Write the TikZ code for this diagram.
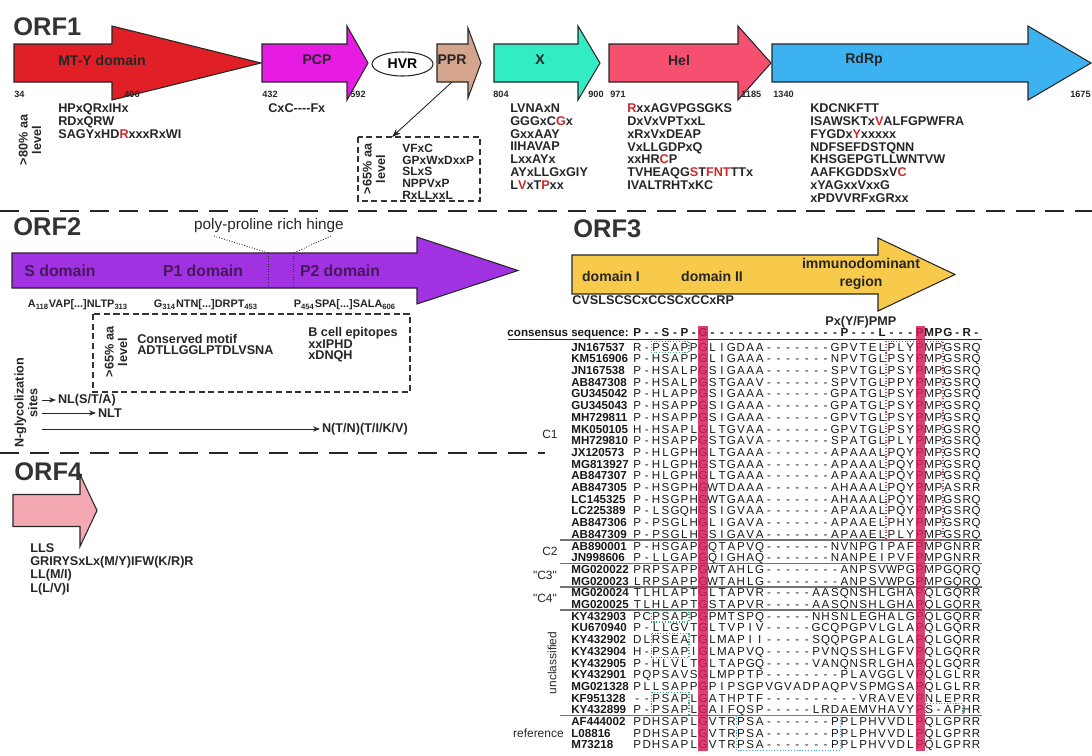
\documentclass[tikz,border=0pt]{standalone}
\usepackage{fontspec}
\setmainfont[Ligatures=TeXOff]{Liberation Sans}
\usetikzlibrary{shapes.geometric,arrows.meta}

\definecolor{mtred}{RGB}{224,32,38}
\definecolor{pcpmag}{RGB}{230,28,226}
\definecolor{pprtan}{RGB}{212,164,140}
\definecolor{xcyan}{RGB}{50,236,198}
\definecolor{helpink}{RGB}{245,80,112}
\definecolor{rdrpblue}{RGB}{60,178,240}
\definecolor{orftwo}{RGB}{160,50,226}
\definecolor{orfthree}{RGB}{247,202,76}
\definecolor{orffour}{RGB}{244,168,178}
\definecolor{motred}{RGB}{204,40,44}
\definecolor{colcrim}{RGB}{214,30,88}
\definecolor{domtxt}{RGB}{72,24,92}
\definecolor{boxgreen}{RGB}{60,160,120}
\definecolor{boxred}{RGB}{205,60,70}
\definecolor{boxblue}{RGB}{70,170,215}

% one fixed cell per residue
\newlength\cellw
\setlength\cellw{5.357pt}
\newcommand\seqcells[1]{\seqstep#1\relax}
\newcommand\seqstep[1]{\ifx\relax#1\else\makebox[\cellw]{#1}\expandafter\seqstep\fi}

\tikzset{
  title/.style={font=\fontsize{14.5}{16}\selectfont\bfseries, text=black!80, anchor=base west, inner sep=0pt},
  orf/.style={draw=black!85, line width=0.6pt},
  dom/.style={font=\fontsize{8}{10}\selectfont\bfseries, text=black!85, inner sep=0pt, align=center},
  domtwo/.style={font=\fontsize{9}{10}\selectfont\bfseries, text=domtxt, inner sep=0pt},
  aanum/.style={font=\fontsize{5.2}{6}\selectfont\bfseries, text=black!85, inner sep=0pt, anchor=west},
  motif/.style={font=\fontsize{7.2}{7.31}\selectfont\bfseries, text=black!85, align=left, anchor=north west, inner sep=0pt},
  lvl/.style={font=\fontsize{7.2}{7.8}\selectfont\bfseries, text=black!85, align=center, rotate=90, inner sep=0pt},
  dashbox/.style={draw=black!80, dash pattern=on 3.5pt off 2pt, line width=0.6pt},
  sepline/.style={draw=black!85, line width=1.6pt, dash pattern=on 10.8pt off 6.2pt},
  hinge/.style={draw=black!85, densely dotted, line width=0.5pt},
  glyarrow/.style={-{Stealth[length=4pt,width=3pt]}, draw=black!85, line width=0.5pt},
  seqtxt/.style={font=\fontsize{6.6}{7}\selectfont, text=black!90, anchor=west, inner sep=0pt, text height=4.7pt, text depth=0pt},
  seqlab/.style={seqtxt, font=\fontsize{6.6}{7}\selectfont\bfseries},
  grplab/.style={font=\fontsize{6.8}{7.5}\selectfont, text=black!85, inner sep=0pt},
  grpline/.style={draw=black!55, line width=0.9pt},
  dotbox/.style={densely dotted, line width=0.6pt}
}

\begin{document}
\begin{tikzpicture}[x=0.02cm, y=-0.02cm]
  \useasboundingbox (0,0) rectangle (1092,755);

  % ORF1
  \node[title] (orf1) at (13,35) {ORF1};
  \draw[orf, fill=mtred] (14,44) -- (112,44) -- (112,26) -- (261,63) -- (112,100) -- (112,82) -- (14,82) -- cycle;
  \draw[orf, fill=pcpmag] (262,44) -- (347,44) -- (347,26) -- (368,63) -- (347,100) -- (347,82) -- (262,82) -- cycle;
  \draw[orf, fill=pprtan] (437,44) -- (468,44) -- (468,28) -- (481,63) -- (468,98) -- (468,82) -- (437,82) -- cycle;
  \draw[orf, fill=xcyan] (494,44) -- (578,44) -- (578,26) -- (600,63) -- (578,100) -- (578,82) -- (494,82) -- cycle;
  \draw[orf, fill=helpink] (609,44) -- (738,44) -- (738,26) -- (771,63) -- (738,100) -- (738,82) -- (609,82) -- cycle;
  \draw[orf, fill=rdrpblue] (772,44) -- (1028,44) -- (1028,26) -- (1091,63) -- (1028,100) -- (1028,82) -- (772,82) -- cycle;
  \node[dom] (mty) at (102,60) {MT-Y domain};
  \node[dom] (pcp) at (317,60) {PCP};
  \node[draw=black!85, fill=white, ellipse, line width=0.6pt, minimum width=1.22cm, minimum height=0.48cm, inner sep=0pt, font=\fontsize{8}{9}\selectfont\bfseries] (hvr) at (402.5,64) {HVR};
  \node[dom] (ppr) at (452,60) {PPR};
  \node[dom] (xdom) at (540,60) {X};
  \node[dom] (hel) at (679,60) {Hel};
  \node[dom] (rdrp) at (864,60) {RdRp};

  \node[aanum] (n34) at (14,94) {34};
  \node[aanum] (n406) at (124,94) {406};
  \node[aanum] (n432) at (262,94) {432};
  \node[aanum] (n592) at (350,94) {592};
  \node[aanum] (n804) at (493,94) {804};
  \node[aanum] (n900) at (588,94) {900};
  \node[aanum] (n971) at (610,94) {971};
  \node[aanum] (n1185) at (741,94) {1185};
  \node[aanum] (n1340) at (773,94) {1340};
  \node[aanum, anchor=east] (n1675) at (1091,94) {1675};

  \node[lvl] (lv80) at (30,140) {>80\% aa\\level};
  \node[motif] (mtymot) at (58,103.4) {HPxQRxIHx\\RDxQRW\\SAGYxHD\textcolor{motred}{R}xxxRxWI};
  \node[motif] (pcpmot) at (268,103.4) {CxC----Fx};
  \node[motif] (xmot) at (510,103.4) {LVNAxN\\GGGxC\textcolor{motred}{G}x\\GxxAAY\\IIHAVAP\\LxxAYx\\AYxLLGxGIY\\L\textcolor{motred}{V}xT\textcolor{motred}{P}xx};
  \node[motif] (helmot) at (627,103.4) {\textcolor{motred}{R}xxAGVPGSGKS\\DxVxVPTxxL\\xRxVxDEAP\\VxLLGDPxQ\\xxHR\textcolor{motred}{C}P\\TVHEAQG\textcolor{motred}{S}T\textcolor{motred}{FNT}TTx\\IVALTRHTxKC};
  \node[motif] (rdrpmot) at (810,103.4) {KDCNKFTT\\ISAWSKTx\textcolor{motred}{V}ALFGPWFRA\\FYGDx\textcolor{motred}{Y}xxxxx\\NDFSEFDSTQNN\\KHSGEPGTLLWNTVW\\AAFKGDDSxV\textcolor{motred}{C}\\xYAGxxVxxG\\xPDVVRFxGRxx};

  \draw[dashbox] (358,137) rectangle (480,201);
  \node[lvl] (lv65a) at (374,169) {>65\% aa\\level};
  \node[motif, font=\fontsize{6.8}{6.7}\selectfont\bfseries] (pprmot) at (402,143.6) {VFxC\\GPxWxDxxP\\SLxS\\NPPVxP\\RxLLxxL};
  \coordinate (pprb) at (452,82);
  \coordinate (boxtip) at (392,137);
  \draw[-{Stealth[length=5pt,width=3.5pt]}, draw=black!85, line width=0.5pt] (pprb) -- (boxtip);

  \draw[sepline] (0,211) -- (1092,211);

  % ORF2
  \node[title] (orf2) at (13,235) {ORF2};
  \draw[orf, fill=orftwo] (12,253) -- (417,253) -- (417,237) -- (518,270.5) -- (417,304) -- (417,288) -- (12,288) -- cycle;
  \draw[hinge] (268.5,253) -- (268.5,288);
  \draw[hinge] (293.5,253) -- (293.5,288);
  \node[font=\fontsize{8.7}{9}\selectfont, text=black!85, inner sep=0pt] (hinge) at (269,226) {poly-proline rich hinge};
  \draw[hinge] (214,236) -- (268.5,253);
  \draw[hinge] (331,236) -- (293.5,253);
  \node[domtwo] (sdom) at (60,271) {S domain};
  \node[domtwo] (ponedom) at (203,271) {P1 domain};
  \node[domtwo] (ptwodom) at (340,271) {P2 domain};
  \node[font=\fontsize{6.2}{7}\selectfont\bfseries, text=black!85, inner sep=0pt] (subs) at (78,305) {A\textsubscript{118}VAP[...]NLTP\textsubscript{313}};
  \node[font=\fontsize{6.2}{7}\selectfont\bfseries, text=black!85, inner sep=0pt] (subp1) at (206,305) {G\textsubscript{314}NTN[...]DRPT\textsubscript{453}};
  \node[font=\fontsize{6.2}{7}\selectfont\bfseries, text=black!85, inner sep=0pt] (subp2) at (345,305) {P\textsubscript{454}SPA[...]SALA\textsubscript{606}};

  \draw[dashbox] (93,314) rectangle (410,392);
  \node[lvl] (lv65b) at (116,352) {>65\% aa\\level};
  \node[motif, font=\fontsize{7.2}{6.5}\selectfont\bfseries] (consmot) at (137,333.9) {Conserved motif\\ADTLLGGLPTDLVSNA};
  \node[motif, font=\fontsize{7.2}{6.6}\selectfont\bfseries] (bcell) at (308,326.9) {B cell epitopes\\xxIPHD\\xDNQH};

  \node[lvl] (nglyc) at (26,403) {N-glycolization\\sites};
  \coordinate (ngone) at (42,400);
  \coordinate (ngtwo) at (42,413);
  \coordinate (ngthree) at (42,429);
  \node[motif, anchor=west, inner sep=1pt] (nlsta) at (56,400) {NL(S/T/A)};
  \node[motif, anchor=west, inner sep=1pt] (nlt) at (96,413) {NLT};
  \node[motif, anchor=west, inner sep=1pt] (ntnt) at (320,429) {N(T/N)(T/I/K/V)};
  \draw[glyarrow] (ngone) -- (nlsta.west);
  \draw[glyarrow] (ngtwo) -- (nlt.west);
  \draw[glyarrow] (ngthree) -- (ntnt.west);

  \draw[sepline] (0,453) -- (545,453);

  % ORF4
  \node[title] (orf4) at (14,480) {ORF4};
  \draw[orf, fill=orffour] (13,494.5) -- (80,494.5) -- (80,474.5) -- (97,510.5) -- (80,546.5) -- (80,526.5) -- (13,526.5) -- cycle;
  \node[motif, font=\fontsize{7.2}{7.5}\selectfont\bfseries] (orf4mot) at (30,543.4) {LLS\\GRIRYSxLx(M/Y)IFW(K/R)R\\LL(M/I)\\L(L/V)I};

  % ORF3
  \node[title] (orf3) at (573,237) {ORF3};
  \draw[orf, fill=orfthree] (572,255) -- (878,255) -- (878,238) -- (955,274.5) -- (878,311) -- (878,294) -- (572,294) -- cycle;
  \node[dom] (domone) at (611,276) {domain I};
  \node[dom] (domtwo) at (712,276) {domain II};
  \node[dom] (immuno) at (861,274) {immunodominant\\region};
  \node[motif] (cvsl) at (572,295.4) {CVSLSCSCxCCSCxCCxRP};
  \node[motif] (pxyf) at (825,316.4) {Px(Y/F)PMP};

  % alignment
  \node[seqlab, anchor=east] (conslab) at (629,332) {consensus sequence:};
  \node[seqlab] (cons) at (632.3,332) {\seqcells{P--S-P-G--------------P---L---PMPG-R-}};
  \draw[draw=black!85, line width=1pt] (508,339.5) -- (982,339.5);

  \node[seqlab] (l1) at (571,347) {JN167537};
  \node[seqtxt] (s1) at (632.3,347) {\seqcells{R-PSAPPGLIGDAA-------GPVTELPLYPMPGSRQ}};
  \node[seqlab] (l2) at (571,358.7) {KM516906};
  \node[seqtxt] (s2) at (632.3,358.7) {\seqcells{P-HSAPPGLIGAAA-------NPVTGLPSYPMPGSRQ}};
  \node[seqlab] (l3) at (571,370.4) {JN167538};
  \node[seqtxt] (s3) at (632.3,370.4) {\seqcells{P-HSALPGSIGAAA-------SPVTGLPSYPMPGSRQ}};
  \node[seqlab] (l4) at (571,382.1) {AB847308};
  \node[seqtxt] (s4) at (632.3,382.1) {\seqcells{P-HSALPGSTGAAV-------SPVTGLPPYPMPGSRQ}};
  \node[seqlab] (l5) at (571,393.8) {GU345042};
  \node[seqtxt] (s5) at (632.3,393.8) {\seqcells{P-HLAPPGSIGAAA-------GPATGLPSYPMPGSRQ}};
  \node[seqlab] (l6) at (571,405.5) {GU345043};
  \node[seqtxt] (s6) at (632.3,405.5) {\seqcells{P-HSAPPGSIGAAA-------GPATGLPSYPMPGSRQ}};
  \node[seqlab] (l7) at (571,417.2) {MH729811};
  \node[seqtxt] (s7) at (632.3,417.2) {\seqcells{P-HSAPPGSIGAAA-------GPVTGLPSYPMPGSRQ}};
  \node[seqlab] (l8) at (571,428.9) {MK050105};
  \node[seqtxt] (s8) at (632.3,428.9) {\seqcells{H-HSAPLGLTGVAA-------GPVTGLPSYPMPGSRQ}};
  \node[seqlab] (l9) at (571,440.6) {MH729810};
  \node[seqtxt] (s9) at (632.3,440.6) {\seqcells{P-HSAPPGSTGAVA-------SPATGLPLYPMPGSRQ}};
  \node[seqlab] (l10) at (571,452.3) {JX120573};
  \node[seqtxt] (s10) at (632.3,452.3) {\seqcells{P-HLGPHGLTGAAA-------APAAALPQYPMPGSRQ}};
  \node[seqlab] (l11) at (571,464) {MG813927};
  \node[seqtxt] (s11) at (632.3,464) {\seqcells{P-HLGPHGSTGAAA-------APAAALPQYPMPGSRQ}};
  \node[seqlab] (l12) at (571,475.7) {AB847307};
  \node[seqtxt] (s12) at (632.3,475.7) {\seqcells{P-HLGPHGLTGAAA-------APAAALPQYPMPGSRQ}};
  \node[seqlab] (l13) at (571,487.4) {AB847305};
  \node[seqtxt] (s13) at (632.3,487.4) {\seqcells{P-HSGPHGWTDAAA-------AHAAALPQYPMPASRR}};
  \node[seqlab] (l14) at (571,499.1) {LC145325};
  \node[seqtxt] (s14) at (632.3,499.1) {\seqcells{P-HSGPHGWTGAAA-------AHAAALPQYPMPGSRQ}};
  \node[seqlab] (l15) at (571,510.8) {LC225389};
  \node[seqtxt] (s15) at (632.3,510.8) {\seqcells{P-LSGQHGSIGVAA-------APAAALPQYPMPGSRQ}};
  \node[seqlab] (l16) at (571,522.5) {AB847306};
  \node[seqtxt] (s16) at (632.3,522.5) {\seqcells{P-PSGLHGLIGAVA-------APAAELPHYPMPGSRQ}};
  \node[seqlab] (l17) at (571,534.2) {AB847309};
  \node[seqtxt] (s17) at (632.3,534.2) {\seqcells{P-PSGLHGSIGAVA-------APAAELPLYPMPGSRQ}};
  \node[seqlab] (l18) at (571,545.9) {AB890001};
  \node[seqtxt] (s18) at (632.3,545.9) {\seqcells{P-HSGAPGQTAPVQ-------NVNPGIPAFPMPGNRR}};
  \node[seqlab] (l19) at (571,557.6) {JN998606};
  \node[seqtxt] (s19) at (632.3,557.6) {\seqcells{P-LLGAPGQIGHAQ-------NANPEIPVFPMPGNRR}};
  \node[seqlab] (l20) at (571,569.3) {MG020022};
  \node[seqtxt] (s20) at (632.3,569.3) {\seqcells{PRPSAPPGWTAHLG--------ANPSVWPGPMPGQRQ}};
  \node[seqlab] (l21) at (571,581) {MG020023};
  \node[seqtxt] (s21) at (632.3,581) {\seqcells{LRPSAPPGWTAHLG--------ANPSVWPGPMPGQRQ}};
  \node[seqlab] (l22) at (571,592.7) {MG020024};
  \node[seqtxt] (s22) at (632.3,592.7) {\seqcells{TLHLAPTGLTAPVR-----AASQNSHLGHAPQLGQRR}};
  \node[seqlab] (l23) at (571,604.4) {MG020025};
  \node[seqtxt] (s23) at (632.3,604.4) {\seqcells{TLHLAPTGSTAPVR-----AASQNSHLGHAPQLGQRR}};
  \node[seqlab] (l24) at (571,616.1) {KY432903};
  \node[seqtxt] (s24) at (632.3,616.1) {\seqcells{PCPSAPPGPMTSPQ-----NHSNLEGHALGPQLGQRR}};
  \node[seqlab] (l25) at (571,627.8) {KU670940};
  \node[seqtxt] (s25) at (632.3,627.8) {\seqcells{P-LLGVTGLTVPIV-----GCQPGPVLGLAPQLGQRR}};
  \node[seqlab] (l26) at (571,639.5) {KY432902};
  \node[seqtxt] (s26) at (632.3,639.5) {\seqcells{DLRSEATGLMAPII-----SQQPGPALGLAPQLGQRR}};
  \node[seqlab] (l27) at (571,651.2) {KY432904};
  \node[seqtxt] (s27) at (632.3,651.2) {\seqcells{H-PSAPIGLMAPVQ-----PVNQSSHLGFVPQLGQRR}};
  \node[seqlab] (l28) at (571,662.9) {KY432905};
  \node[seqtxt] (s28) at (632.3,662.9) {\seqcells{P-HLVLTGLTAPGQ-----VANQNSRLGHAPQLGQRR}};
  \node[seqlab] (l29) at (571,674.6) {KY432901};
  \node[seqtxt] (s29) at (632.3,674.6) {\seqcells{PQPSAVSGLMPPTP--------PLAVGGLVPQLGLRR}};
  \node[seqlab] (l30) at (571,686.3) {MG021328};
  \node[seqtxt] (s30) at (632.3,686.3) {\seqcells{PLLSAPPGPIPSGPVGVADPAQPVSPMGSAPQLGLRR}};
  \node[seqlab] (l31) at (571,698) {KF951328};
  \node[seqtxt] (s31) at (632.3,698) {\seqcells{--PSAPLGATHPTF----------VRAVEVPNLEPRR}};
  \node[seqlab] (l32) at (571,709.7) {KY432899};
  \node[seqtxt] (s32) at (632.3,709.7) {\seqcells{P-PSAPLGAIFQSP-----LRDAEMVHAVYPS-APHR}};
  \node[seqlab] (l33) at (571,721.4) {AF444002};
  \node[seqtxt] (s33) at (632.3,721.4) {\seqcells{PDHSAPLGVTRPSA-------PPLPHVVDLPQLGPRR}};
  \node[seqlab] (l34) at (571,733.1) {L08816};
  \node[seqtxt] (s34) at (632.3,733.1) {\seqcells{PDHSAPLGVTRPSA-------PPLPHVVDLPQLGPRR}};
  \node[seqlab] (l35) at (571,744.8) {M73218};
  \node[seqtxt] (s35) at (632.3,744.8) {\seqcells{PDHSAPLGVTRPSA-------PPLPHVVDLPQLGPRR}};

  % groups
  \draw[grpline] (560,540) -- (982,540);
  \draw[grpline] (560,563.4) -- (982,563.4);
  \draw[grpline] (560,586.8) -- (982,586.8);
  \draw[grpline] (560,610.2) -- (982,610.2);
  \draw[grpline] (560,715.5) -- (982,715.5);
  \node[grplab] (cone) at (550,434.7) {C1};
  \node[grplab] (ctwo) at (550,551.7) {C2};
  \node[grplab] (cthree) at (545,575.1) {"C3"};
  \node[grplab] (cfour) at (545,598.5) {"C4"};
  \node[grplab, rotate=90] (uncl) at (552,662.9) {unclassified};
  \node[grplab, anchor=east] (refs) at (564,733.1) {reference};

  % conserved columns and boxed motifs
  \fill[colcrim, opacity=0.85] (698.4,326) rectangle (707.9,751);
  \fill[colcrim, opacity=0.85] (915.8,326) rectangle (925.2,751);
  \draw[dotbox, boxred] (886,341.2) rectangle (943,540);
  \draw[dotbox, boxgreen] (651.2,341.2) rectangle (689,352.9);
  \draw[dotbox, boxgreen] (651.2,610.2) rectangle (689,622);
  \draw[dotbox, boxgreen] (651.2,633.6) rectangle (689,657.1);
  \draw[dotbox, boxgreen] (651.2,692.2) rectangle (689,715.5);
  \draw[dotbox, boxgreen] (925.2,703.9) rectangle (963,715.5);
  \draw[dotbox, boxblue] (736.2,715.6) rectangle (840.2,750.7);
\end{tikzpicture}
\end{document}
